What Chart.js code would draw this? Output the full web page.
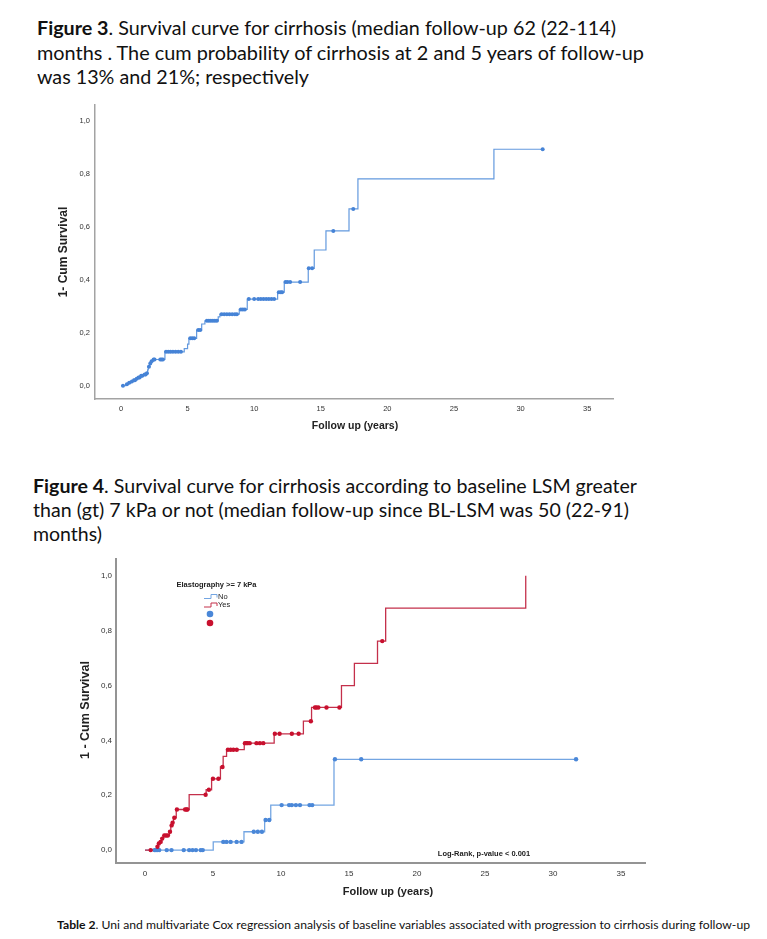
<!DOCTYPE html>
<html><head><meta charset="utf-8">
<script src="https://cdn.jsdelivr.net/npm/chart.js@4.4.0/dist/chart.umd.min.js"></script>
<style>
html,body{margin:0;padding:0;background:#fff;width:767px;height:939px;overflow:hidden;}
body{position:relative;}
.line{position:absolute;white-space:nowrap;font-family:Lato,'Open Sans',sans-serif;color:#111;transform-origin:0 0;line-height:1;}
.line b{font-weight:700;}
canvas{position:absolute;left:0;}
</style></head><body>
<div class="line" data-x="36.7" data-b="35" data-w="579" data-fs="18.5"><b>Figure 3</b>. Survival curve for cirrhosis (median follow-up 62 (22-114)</div>
<div class="line" data-x="36.7" data-b="60" data-w="607" data-fs="18.5">months . The cum probability of cirrhosis at 2 and 5 years of follow-up</div>
<div class="line" data-x="36.7" data-b="84" data-w="272" data-fs="18.5">was 13% and 21%; respectively</div>
<div class="line" data-x="32.7" data-b="492.7" data-w="604" data-fs="18.5"><b>Figure 4</b>. Survival curve for cirrhosis according to baseline LSM greater</div>
<div class="line" data-x="32.7" data-b="516.7" data-w="596" data-fs="18.5">than (gt) 7 kPa or not (median follow-up since BL-LSM was 50 (22-91)</div>
<div class="line" data-x="32.7" data-b="540.7" data-w="69" data-fs="18.5">months)</div>
<div class="line" data-x="57" data-b="929" data-w="693" data-fs="11"><b>Table 2</b>. Uni and multivariate Cox regression analysis of baseline variables associated with progression to cirrhosis during follow-up</div>

<canvas id="c1" width="767" height="345" style="top:95px"></canvas>
<canvas id="c2" width="767" height="350" style="top:550px"></canvas>

<script>
// ---------- shared axis ticks ----------
const xTickValues = [0, 5, 10, 15, 20, 25, 30, 35];
const yTickValues = [0, 0.2, 0.4, 0.6, 0.8, 1.0];
const yTickLabels = ['0,0', '0,2', '0,4', '0,6', '0,8', '1,0'];

// ---------- Figure 3: overall cumulative incidence ----------
const overallTimes = [0, 0.35, 0.55, 0.75, 0.93, 1.1, 1.25, 1.45, 1.7, 1.9, 2.0, 2.05, 2.15, 2.25, 2.4, 3.3, 4.75, 5.0, 5.1, 5.68, 6.06, 6.3, 7.3, 7.43, 8.88, 9.48, 11.76, 12.26, 14.06, 14.51, 15.39, 17.12, 17.79, 28.0, 31.66];
const overallProbs = [0, 0.006, 0.011, 0.016, 0.021, 0.026, 0.031, 0.038, 0.042, 0.047, 0.06, 0.072, 0.084, 0.092, 0.099, 0.128, 0.14, 0.157, 0.179, 0.21, 0.233, 0.245, 0.26, 0.27, 0.288, 0.327, 0.353, 0.391, 0.443, 0.512, 0.584, 0.667, 0.78, 0.892, 0.892];
const overallCensorTimes = [0.15, 0.45, 0.62, 0.82, 0.98, 1.05, 1.18, 1.32, 1.4, 1.52, 1.6, 1.78, 1.85, 1.95, 2.1, 2.2, 2.3, 2.45, 2.52, 2.95, 3.05, 3.15, 3.38, 3.55, 3.72, 3.9, 4.1, 4.3, 4.5, 5.2, 5.35, 5.5, 5.8, 5.95, 6.45, 6.6, 6.75, 6.9, 7.05, 7.2, 7.55, 7.75, 7.95, 8.15, 8.35, 8.55, 8.7, 9.0, 9.15, 9.3, 9.6, 10.0, 10.3, 10.5, 10.7, 10.9, 11.1, 11.3, 11.5, 11.85, 12.0, 12.1, 12.35, 12.5, 12.7, 13.45, 14.1, 14.35, 15.94, 17.44, 31.66];
const overallCensorProbs = [0, 0.006, 0.011, 0.016, 0.021, 0.021, 0.026, 0.031, 0.031, 0.038, 0.038, 0.042, 0.042, 0.047, 0.072, 0.084, 0.092, 0.099, 0.099, 0.099, 0.099, 0.099, 0.128, 0.128, 0.128, 0.128, 0.128, 0.128, 0.128, 0.179, 0.179, 0.179, 0.21, 0.21, 0.245, 0.245, 0.245, 0.245, 0.245, 0.245, 0.27, 0.27, 0.27, 0.27, 0.27, 0.27, 0.27, 0.288, 0.288, 0.288, 0.327, 0.327, 0.327, 0.327, 0.327, 0.327, 0.327, 0.327, 0.327, 0.353, 0.353, 0.353, 0.391, 0.391, 0.391, 0.391, 0.443, 0.443, 0.584, 0.667, 0.892];

// ---------- Figure 4: by elastography >= 7 kPa ----------
const groupLabels = ['No', 'Yes'];
const noTimes = [0, 5.02, 7.28, 8.8, 9.25, 13.9, 31.7];
const noProbs = [0, 0.03, 0.067, 0.11, 0.164, 0.331, 0.331];
const noCensorTimes = [0.7, 0.8, 0.9, 1.05, 1.6, 1.95, 2.85, 3.25, 3.5, 3.75, 4.1, 4.25, 5.76, 6.0, 6.3, 6.74, 7.1, 8.0, 8.3, 8.6, 8.87, 9.14, 10.05, 10.6, 10.8, 11.1, 11.4, 12.1, 12.3, 13.97, 15.9, 31.7];
const noCensorProbs = [0, 0, 0, 0, 0, 0, 0, 0, 0, 0, 0, 0, 0.03, 0.03, 0.03, 0.03, 0.03, 0.067, 0.067, 0.067, 0.11, 0.11, 0.164, 0.164, 0.164, 0.164, 0.164, 0.164, 0.164, 0.331, 0.331, 0.331];
const yesTimes = [0, 0.85, 0.98, 1.1, 1.23, 1.35, 1.8, 1.9, 2.0, 2.1, 2.3, 3.25, 4.5, 4.9, 5.55, 5.75, 6.0, 7.3, 9.5, 11.65, 12.25, 14.45, 15.4, 17.1, 17.7, 28.0];
const yesProbs = [0, 0.012, 0.024, 0.03, 0.042, 0.053, 0.067, 0.09, 0.10, 0.118, 0.148, 0.202, 0.22, 0.26, 0.303, 0.342, 0.366, 0.39, 0.424, 0.47, 0.52, 0.6, 0.681, 0.762, 0.882, 1.0];
const yesCensorTimes = [0.42, 0.92, 1.02, 1.15, 1.27, 1.42, 1.55, 1.68, 1.84, 1.96, 2.03, 2.16, 2.35, 2.95, 3.05, 3.12, 4.46, 4.7, 5.0, 5.4, 5.7, 6.1, 6.3, 6.5, 6.75, 7.35, 7.45, 7.55, 7.7, 8.2, 8.45, 8.7, 9.55, 9.9, 10.8, 11.3, 12.2, 12.5, 12.6, 12.75, 13.35, 14.3, 17.45];
const yesCensorProbs = [0, 0.012, 0.024, 0.03, 0.042, 0.053, 0.053, 0.053, 0.067, 0.09, 0.10, 0.118, 0.148, 0.148, 0.148, 0.148, 0.202, 0.22, 0.26, 0.26, 0.303, 0.366, 0.366, 0.366, 0.366, 0.39, 0.39, 0.39, 0.39, 0.39, 0.39, 0.39, 0.424, 0.424, 0.424, 0.424, 0.47, 0.52, 0.52, 0.52, 0.52, 0.52, 0.762];

// ---------- header text fitting ----------
document.querySelectorAll('.line').forEach(el => {
  const fs = +el.dataset.fs;
  el.style.fontSize = fs + 'px';
  el.style.left = el.dataset.x + 'px';
  el.style.top = '0px';
  const probe = document.createElement('span');
  probe.style.cssText = 'display:inline-block;width:0;height:0;vertical-align:baseline;';
  el.appendChild(probe);
  const base = probe.getBoundingClientRect().top - el.getBoundingClientRect().top;
  el.style.top = (+el.dataset.b - base) + 'px';
  const w = el.getBoundingClientRect().width;
  el.style.transform = 'scaleX(' + (+el.dataset.w / w) + ')';
});

const pts = (xs, ys) => xs.map((x, i) => ({x: x, y: ys[i]}));

const textPlugin = {
  id: 'texts',
  afterDraw(chart, args, opts) {
    const ctx = chart.ctx;
    (opts.items || []).forEach(it => {
      ctx.save();
      ctx.font = it.font; ctx.fillStyle = it.color || '#222';
      ctx.textAlign = it.align || 'center'; ctx.textBaseline = 'middle';
      ctx.translate(it.x, it.y); if (it.rot) ctx.rotate(it.rot);
      ctx.fillText(it.text, 0, 0); ctx.restore();
    });
    (opts.glyphs || []).forEach(g => {
      ctx.save();
      ctx.strokeStyle = g.color; ctx.lineWidth = 1;
      ctx.beginPath();
      ctx.moveTo(g.x, g.y + 2); ctx.lineTo(g.x + 7, g.y + 2); ctx.lineTo(g.x + 7, g.y - 2);
      ctx.lineTo(g.x + 13, g.y - 2); ctx.lineTo(g.x + 13, g.y + 1);
      ctx.stroke(); ctx.restore();
    });
    (opts.dots || []).forEach(d => {
      ctx.save(); ctx.fillStyle = d.color; ctx.beginPath();
      ctx.arc(d.x, d.y, d.r, 0, Math.PI * 2); ctx.fill(); ctx.restore();
    });
  }
};

function makeScales(cfg) {
  return {
    x: {
      type: 'linear', min: cfg.xmin, max: cfg.xmax,
      afterBuildTicks: s => { s.ticks = xTickValues.map(v => ({value: v})); },
      afterFit: s => { s.height = cfg.xh; },
      grid: {display: false, drawTicks: false},
      border: {display: true, color: cfg.axisColor, width: cfg.axisWidth},
      ticks: {padding: cfg.xpad, color: '#333', font: {family: 'Liberation Sans', size: cfg.tickSize}, maxRotation: 0, autoSkip: false, callback: v => String(v)}
    },
    y: {
      type: 'linear', min: cfg.ymin, max: cfg.ymax,
      afterBuildTicks: s => { s.ticks = yTickValues.map(v => ({value: v})); },
      afterFit: s => { s.width = cfg.yw; },
      grid: {display: false, drawTicks: false},
      border: {display: true, color: cfg.axisColor, width: cfg.axisWidth},
      ticks: {padding: cfg.ypad, color: '#333', font: {family: 'Liberation Sans', size: cfg.tickSize}, autoSkip: false, callback: (v, i) => yTickLabels[i]}
    }
  };
}

// Figure 3
new Chart(document.getElementById('c1'), {
  type: 'line',
  data: {
    datasets: [
      {type: 'scatter', data: pts(overallCensorTimes, overallCensorProbs), pointRadius: 2, pointBackgroundColor: '#4683d6', pointBorderWidth: 0, showLine: false, order: 0},
      {type: 'line', data: pts(overallTimes, overallProbs), stepped: 'before', borderColor: '#6399de', borderWidth: 1.2, pointRadius: 0, fill: false, order: 1}
    ]
  },
  options: {
    responsive: false, animation: false, devicePixelRatio: 1,
    layout: {padding: {top: 10, right: 154, left: 0, bottom: 0}},
    plugins: {legend: {display: false}, tooltip: {enabled: false},
      texts: {items: [
        {text: '1- Cum Survival', x: 64, y: 157, rot: -Math.PI / 2, font: 'bold 12px "Liberation Sans"', color: '#222'},
        {text: 'Follow up (years)', x: 355, y: 331, font: 'bold 10.5px "Liberation Sans"', color: '#222'}
      ]}},
    scales: makeScales({xmin: -1.95, xmax: 36.94, ymin: -0.05, ymax: 1.059, xh: 41, yw: 95, xpad: 5, ypad: 5, tickSize: 7.5, axisColor: '#a3a3a3', axisWidth: 1.5})
  },
  plugins: [textPlugin]
});

// Figure 4
new Chart(document.getElementById('c2'), {
  type: 'line',
  data: {
    datasets: [
      {type: 'scatter', label: groupLabels[1], data: pts(yesCensorTimes, yesCensorProbs), pointRadius: 2.2, pointBackgroundColor: '#c8102e', pointBorderWidth: 0, showLine: false, order: 0},
      {type: 'scatter', label: groupLabels[0], data: pts(noCensorTimes, noCensorProbs), pointRadius: 2.2, pointBackgroundColor: '#4a87d8', pointBorderWidth: 0, showLine: false, order: 1},
      {type: 'line', label: groupLabels[1], data: pts(yesTimes, yesProbs), stepped: 'before', borderColor: '#c4304b', borderWidth: 1.3, pointRadius: 0, fill: false, order: 2},
      {type: 'line', label: groupLabels[0], data: pts(noTimes, noProbs), stepped: 'before', borderColor: '#73a5e2', borderWidth: 1.3, pointRadius: 0, fill: false, order: 3}
    ]
  },
  options: {
    responsive: false, animation: false, devicePixelRatio: 1,
    layout: {padding: {top: 8, right: 122, left: 0, bottom: 0}},
    plugins: {legend: {display: false}, tooltip: {enabled: false},
      texts: {
        items: [
          {text: '1 - Cum Survival', x: 86, y: 160, rot: -Math.PI / 2, font: 'bold 12.5px "Liberation Sans"', color: '#222'},
          {text: 'Follow up (years)', x: 388, y: 342, font: 'bold 11px "Liberation Sans"', color: '#222'},
          {text: 'Log-Rank, p-value < 0.001', x: 484, y: 304, font: 'bold 7.5px "Liberation Sans"', color: '#222'},
          {text: 'Elastography >= 7 kPa', x: 216.5, y: 35, font: 'bold 7.5px "Liberation Sans"', color: '#222'},
          {text: groupLabels[0], x: 218, y: 46.5, align: 'left', font: '7.5px "Liberation Sans"', color: '#222'},
          {text: groupLabels[1], x: 218, y: 55, align: 'left', font: '7.5px "Liberation Sans"', color: '#222'}
        ],
        glyphs: [{x: 204, y: 46.5, color: '#73a5e2'}, {x: 204, y: 55, color: '#c4304b'}],
        dots: [{x: 210, y: 64, r: 3.3, color: '#4a87d8'}, {x: 210, y: 73, r: 3.3, color: '#c8102e'}]
      }},
    scales: makeScales({xmin: -2.13, xmax: 36.77, ymin: -0.047, ymax: 1.062, xh: 37, yw: 116, xpad: 6, ypad: 4, tickSize: 8, axisColor: '#949494', axisWidth: 2})
  },
  plugins: [textPlugin]
});
</script>
</body></html>
